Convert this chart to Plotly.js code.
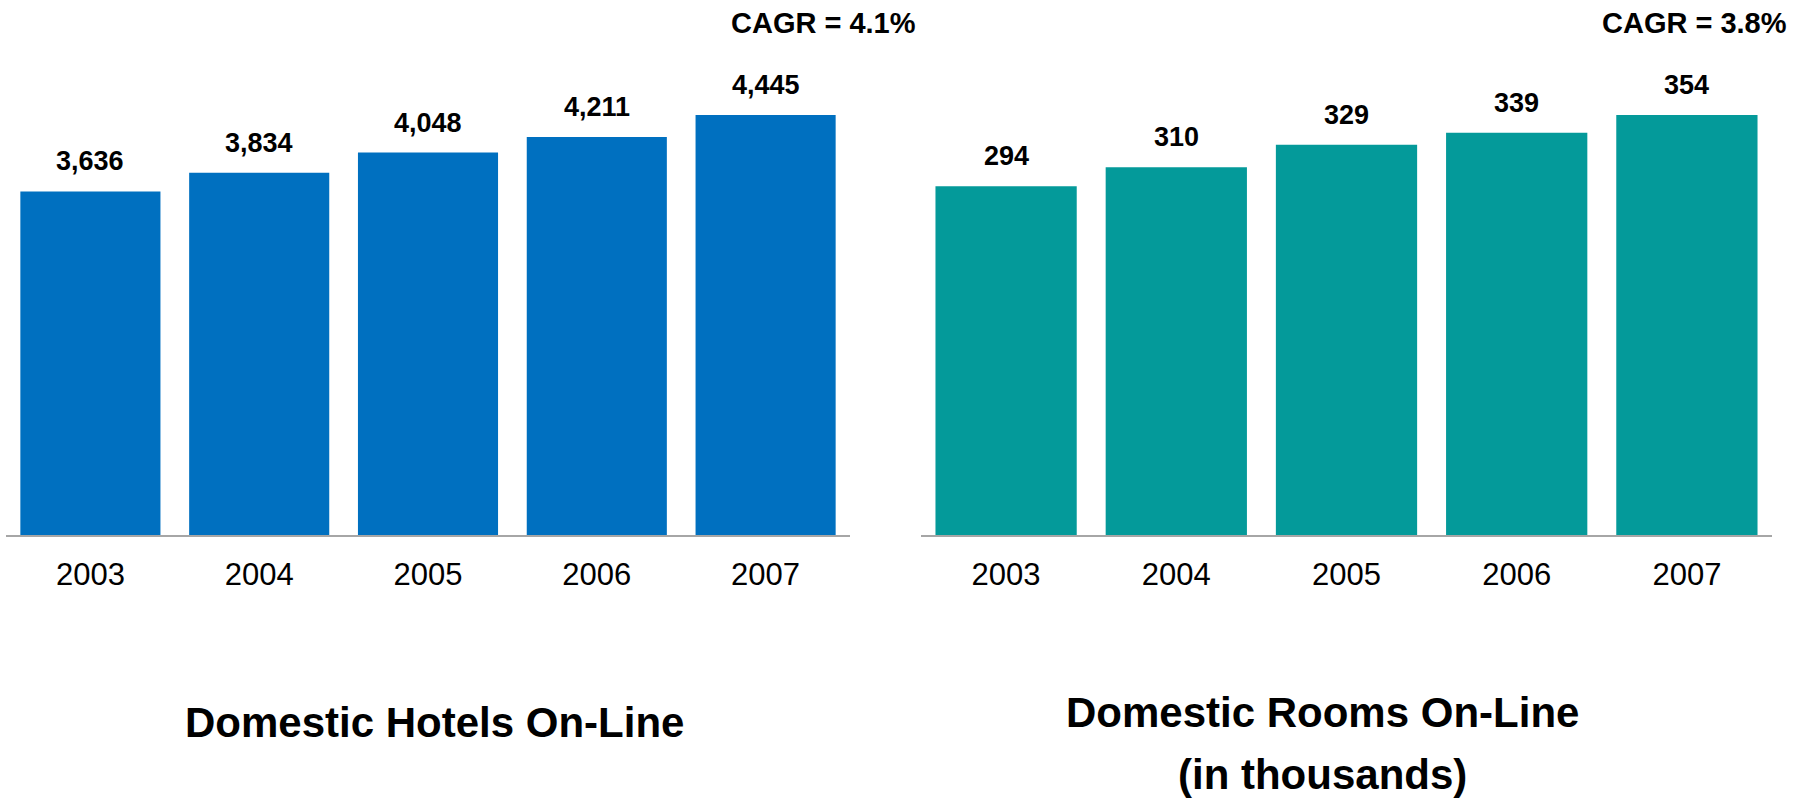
<!DOCTYPE html>
<html>
<head>
<meta charset="utf-8">
<script src="https://cdn.plot.ly/plotly-3.0.1.min.js"></script>
<style>
html,body{margin:0;padding:0;background:#fff;}
#chart{width:1810px;height:799px;}
</style>
</head>
<body>
<div id="chart"></div>
<script>
const years = ['2003', '2004', '2005', '2006', '2007'];
const hotels = [3636, 3834, 4048, 4211, 4445];
const rooms = [294, 310, 329, 339, 354];
const hotelsTitle = 'Domestic Hotels On-Line';
const roomsTitle = 'Domestic Rooms On-Line';
const roomsSubtitle = '(in thousands)';
const hotelsCagr = 'CAGR = 4.1%';
const roomsCagr = 'CAGR = 3.8%';

const FONT = 'Arial, "Liberation Sans", sans-serif';
const BLUE = '#0070c0';
const TEAL = '#049a9a';

const traces = [
  {type: 'bar', x: years, y: hotels, xaxis: 'x', yaxis: 'y',
   marker: {color: BLUE}, hoverinfo: 'x+y'},
  {type: 'bar', x: years, y: rooms, xaxis: 'x2', yaxis: 'y2',
   marker: {color: TEAL}, hoverinfo: 'x+y'}
];

// value labels: positioned on the category axis by category index
function valueLabels(xs, ys, xref, yref) {
  return xs.map((x, i) => ({
    x: i, y: ys[i], xref: xref, yref: yref,
    text: '<b>' + ys[i].toLocaleString('en-US') + '</b>',
    showarrow: false, yanchor: 'middle', yshift: 30,
    font: {family: FONT, size: 27, color: '#000'}
  }));
}

function xaxisOpts(domain, anchor) {
  return {
    type: 'category', categoryarray: years, categoryorder: 'array',
    range: [-0.5, years.length - 0.5], autorange: false,
    domain: domain, anchor: anchor,
    showline: true, linecolor: '#a6a6a6', linewidth: 2,
    showgrid: false, zeroline: false, ticks: '', fixedrange: true,
    tickfont: {family: FONT, size: 31, color: '#000'}, ticklabelstandoff: 11
  };
}

const layout = {
  width: 1810, height: 799,
  margin: {l: 0, r: 0, t: 0, b: 0},
  paper_bgcolor: '#fff', plot_bgcolor: '#fff',
  showlegend: false, bargap: 0.17,
  xaxis: xaxisOpts([6/1810, 850/1810], 'y'),
  xaxis2: xaxisOpts([921/1810, 1772/1810], 'y2'),
  yaxis: {domain: [264/799, 1], range: [0, 5662], autorange: false, visible: false, fixedrange: true, anchor: 'x'},
  yaxis2: {domain: [264/799, 1], range: [0, 451], autorange: false, visible: false, fixedrange: true, anchor: 'x2'},
  annotations: [
    ...valueLabels(years, hotels, 'x', 'y'),
    ...valueLabels(years, rooms, 'x2', 'y2'),
    {xref: 'paper', yref: 'paper', x: 918/1810, y: 1 - 23/799, xanchor: 'right', yanchor: 'middle',
     text: '<b>' + hotelsCagr + '</b>', showarrow: false, font: {family: FONT, size: 29, color: '#000'}},
    {xref: 'paper', yref: 'paper', x: 1789/1810, y: 1 - 23/799, xanchor: 'right', yanchor: 'middle',
     text: '<b>' + roomsCagr + '</b>', showarrow: false, font: {family: FONT, size: 29, color: '#000'}},
    {xref: 'paper', yref: 'paper', x: 434/1810, y: 1 - 722/799, xanchor: 'center', yanchor: 'middle',
     text: '<b>' + hotelsTitle + '</b>', showarrow: false, font: {family: FONT, size: 42, color: '#000'}},
    {xref: 'paper', yref: 'paper', x: 1322/1810, y: 1 - 712/799, xanchor: 'center', yanchor: 'middle',
     text: '<b>' + roomsTitle + '</b>', showarrow: false, font: {family: FONT, size: 42, color: '#000'}},
    {xref: 'paper', yref: 'paper', x: 1322/1810, y: 1 - 774/799, xanchor: 'center', yanchor: 'middle',
     text: '<b>' + roomsSubtitle + '</b>', showarrow: false, font: {family: FONT, size: 42, color: '#000'}}
  ]
};

Plotly.newPlot('chart', traces, layout, {displayModeBar: false, staticPlot: true});
</script>
</body>
</html>
